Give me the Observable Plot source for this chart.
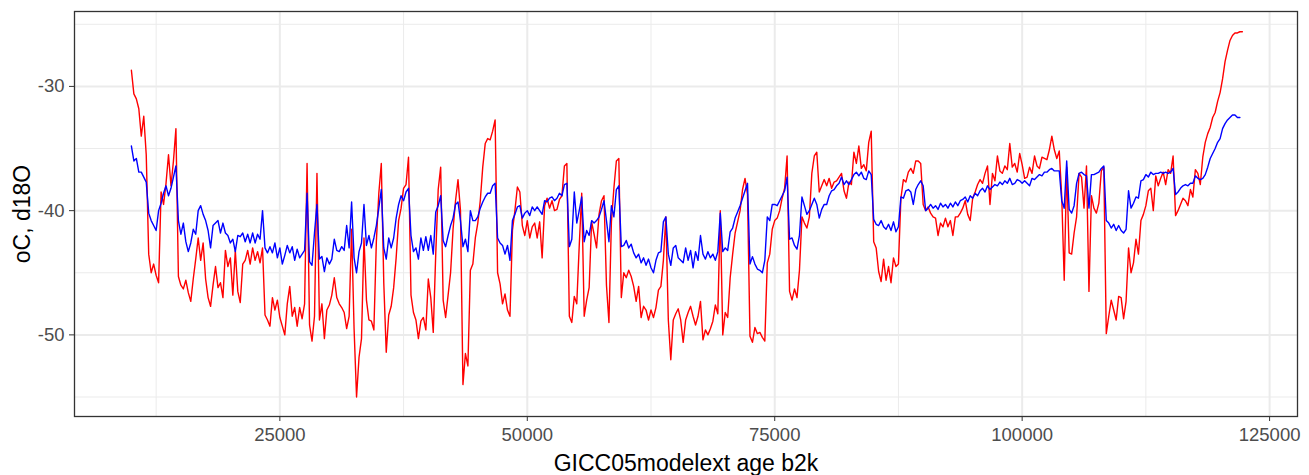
<!DOCTYPE html>
<html>
<head>
<meta charset="utf-8">
<script src="https://cdn.jsdelivr.net/npm/d3@7"></script>
<script src="https://cdn.jsdelivr.net/npm/@observablehq/plot@0.6"></script>
<style>
  html, body { margin: 0; padding: 0; background: #ffffff; }
  #chart svg { display: block; }
</style>
</head>
<body>
<div id="chart"></div>
<script>
// NGRIP-style records on the GICC05modelext time scale, sampled every 250 years.
const startAge = 10000;
const stepYears = 250;

// Temperature (°C), one row per 1000 years starting at the age in the comment
const tempC = [
  -28.7, -30.6, -31.0, -31.8, // 10000
  -34.0, -32.4, -35.5, -43.5, // 11000
  -45.0, -44.3, -45.2, -45.8, // 12000
  -38.5, -39.5, -37.8, -35.5, // 13000
  -38.0, -36.0, -33.4, -45.3, // 14000
  -46.0, -46.3, -45.6, -46.6, // 15000
  -47.3, -45.5, -43.9, -42.2, // 16000
  -44.0, -42.6, -45.5, -47.0, // 17000
  -47.7, -46.0, -44.5, -46.2, // 18000
  -45.8, -47.0, -43.2, -44.5, // 19000
  -43.8, -46.8, -43.2, -46.5, // 20000
  -47.4, -44.3, -44.0, -43.2, // 21000
  -44.3, -43.0, -44.0, -43.3, // 22000
  -44.2, -43.0, -48.4, -48.8, // 23000
  -49.3, -47.0, -48.0, -47.2, // 24000
  -48.6, -49.3, -50.0, -47.5, // 25000
  -46.1, -48.5, -47.8, -49.3, // 26000
  -47.8, -48.7, -47.5, -36.2, // 27000
  -49.2, -50.5, -48.5, -37.0, // 28000
  -48.8, -47.5, -50.3, -48.0, // 29000
  -47.6, -46.8, -45.4, -47.0, // 30000
  -47.5, -47.8, -48.2, -49.5, // 31000
  -48.5, -41.5, -49.5, -55.0, // 32000
  -51.8, -50.3, -42.2, -47.2, // 33000
  -48.8, -48.9, -49.6, -42.5, // 34000
  -38.6, -36.2, -45.8, -51.4, // 35000
  -48.4, -47.7, -46.2, -43.8, // 36000
  -40.8, -39.8, -38.2, -37.9, // 37000
  -35.7, -46.8, -48.2, -48.8, // 38000
  -50.3, -48.9, -48.6, -49.6, // 39000
  -45.5, -47.0, -49.8, -43.5, // 40000
  -38.3, -36.5, -47.2, -48.6, // 41000
  -46.8, -45.0, -41.5, -39.2, // 42000
  -37.5, -40.0, -54.0, -51.5, // 43000
  -52.5, -44.8, -44.3, -42.2, // 44000
  -41.0, -39.2, -36.5, -34.6, // 45000
  -34.2, -34.3, -33.6, -32.7, // 46000
  -45.0, -45.9, -47.5, -46.7, // 47000
  -48.0, -48.5, -41.6, -40.0, // 48000
  -38.1, -38.5, -41.2, -42.0, // 49000
  -40.8, -42.2, -41.3, -41.0, // 50000
  -42.2, -40.9, -43.8, -39.6, // 51000
  -39.0, -39.8, -39.2, -40.0, // 52000
  -39.9, -39.1, -38.8, -36.4, // 53000
  -36.2, -48.5, -49.0, -46.9, // 54000
  -47.5, -42.8, -38.6, -48.5, // 55000
  -47.2, -46.2, -40.9, -41.9, // 56000
  -43.0, -40.3, -39.2, -38.8, // 57000
  -46.0, -49.0, -40.9, -38.2, // 58000
  -36.0, -35.8, -47.0, -45.0, // 59000
  -45.4, -44.8, -45.3, -46.1, // 60000
  -47.3, -46.1, -48.6, -47.7, // 61000
  -48.0, -48.8, -48.0, -48.6, // 62000
  -47.8, -46.4, -46.1, -44.0, // 63000
  -40.5, -48.8, -52.0, -48.8, // 64000
  -48.3, -47.9, -48.8, -50.6, // 65000
  -48.8, -48.2, -47.7, -48.5, // 66000
  -49.2, -48.5, -47.3, -50.4, // 67000
  -49.6, -50.0, -49.5, -48.9, // 68000
  -47.6, -48.3, -40.0, -50.0, // 69000
  -48.2, -48.6, -45.4, -43.5, // 70000
  -41.8, -40.9, -40.0, -38.3, // 71000
  -37.4, -38.7, -50.1, -50.6, // 72000
  -49.4, -49.9, -49.8, -50.2, // 73000
  -50.5, -44.2, -43.5, -41.5, // 74000
  -40.8, -40.6, -40.0, -39.0, // 75000
  -38.2, -35.6, -46.5, -47.2, // 76000
  -46.3, -47.0, -44.8, -40.5, // 77000
  -41.0, -41.4, -40.5, -37.0, // 78000
  -35.6, -35.3, -38.5, -38.0, // 79000
  -37.5, -38.0, -37.4, -38.2, // 80000
  -37.7, -37.6, -37.3, -37.0, // 81000
  -38.4, -39.0, -37.7, -37.9, // 82000
  -35.3, -36.2, -34.8, -36.6, // 83000
  -36.3, -36.8, -34.5, -33.6, // 84000
  -42.5, -43.0, -44.9, -45.7, // 85000
  -43.9, -45.6, -44.5, -45.8, // 86000
  -43.8, -44.5, -44.3, -39.0, // 87000
  -37.5, -37.7, -36.9, -36.6, // 88000
  -37.0, -36.0, -36.0, -36.2, // 89000
  -39.5, -40.0, -39.7, -40.2, // 90000
  -40.5, -40.6, -42.0, -41.0, // 91000
  -41.3, -40.6, -41.3, -40.8, // 92000
  -42.0, -40.5, -40.5, -40.2, // 93000
  -39.8, -39.2, -40.3, -40.8, // 94000
  -39.0, -38.5, -37.9, -37.5, // 95000
  -37.8, -37.0, -36.4, -39.5, // 96000
  -37.0, -37.6, -35.6, -36.8, // 97000
  -37.0, -36.4, -36.7, -34.6, // 98000
  -36.5, -36.2, -36.9, -35.4, // 99000
  -36.3, -37.4, -37.3, -36.5, // 100000
  -37.0, -35.6, -36.4, -36.6, // 101000
  -35.7, -35.8, -35.9, -35.1, // 102000
  -34.0, -35.1, -35.8, -35.2, // 103000
  -38.9, -45.6, -36.5, -43.4, // 104000
  -43.5, -41.8, -40.5, -37.0, // 105000
  -37.3, -39.8, -36.4, -46.5, // 106000
  -38.8, -39.8, -40.2, -39.4, // 107000
  -36.8, -36.5, -49.9, -48.5, // 108000
  -47.2, -48.0, -48.8, -46.9, // 109000
  -47.0, -48.7, -47.3, -43.0, // 110000
  -45.0, -44.2, -42.3, -43.5, // 111000
  -40.8, -40.3, -39.6, -38.4, // 112000
  -38.2, -40.0, -37.2, -38.0, // 113000
  -37.4, -36.9, -37.9, -36.7, // 114000
  -37.0, -35.6, -40.4, -40.0, // 115000
  -39.5, -39.0, -39.2, -39.6, // 116000
  -38.3, -38.9, -36.7, -37.0, // 117000
  -37.9, -35.7, -34.5, -33.8, // 118000
  -33.3, -32.5, -32.1, -31.2, // 119000
  -30.5, -29.4, -28.0, -27.1, // 120000
  -26.3, -25.9, -25.7, -25.7, // 121000
  -25.6, -25.6                // 122000
];

// d18O (permil), same sampling
const d18O = [
  -34.8, -36.0, -35.8, -36.9, // 10000
  -36.9, -37.3, -37.7, -40.2, // 11000
  -40.8, -41.2, -41.6, -40.0, // 12000
  -39.4, -38.6, -38.0, -38.8, // 13000
  -38.2, -37.3, -36.4, -40.8, // 14000
  -41.9, -41.0, -42.5, -43.3, // 15000
  -42.6, -41.5, -41.9, -40.0, // 16000
  -39.6, -40.3, -40.8, -41.6, // 17000
  -43.0, -41.2, -41.0, -40.8, // 18000
  -41.8, -41.0, -41.8, -42.0, // 19000
  -42.6, -42.3, -43.3, -42.0, // 20000
  -42.1, -41.8, -42.5, -41.9, // 21000
  -42.6, -41.8, -42.6, -41.9, // 22000
  -42.3, -40.0, -43.0, -43.4, // 23000
  -42.9, -43.4, -42.6, -43.8, // 24000
  -43.0, -44.3, -43.6, -42.8, // 25000
  -43.4, -42.9, -44.0, -43.1, // 26000
  -43.8, -43.5, -43.2, -38.6, // 27000
  -44.1, -44.4, -41.8, -39.5, // 28000
  -43.9, -43.7, -44.9, -43.8, // 29000
  -44.3, -43.9, -42.3, -43.2, // 30000
  -43.3, -42.9, -43.2, -41.2, // 31000
  -43.0, -39.3, -43.8, -45.0, // 32000
  -43.3, -42.6, -39.5, -42.8, // 33000
  -42.0, -43.0, -42.2, -41.2, // 34000
  -39.8, -38.3, -43.0, -43.9, // 35000
  -42.2, -43.0, -42.2, -40.6, // 36000
  -39.5, -38.8, -39.2, -38.5, // 37000
  -38.2, -42.0, -43.3, -43.0, // 38000
  -43.9, -42.2, -43.2, -42.1, // 39000
  -43.2, -42.0, -43.5, -40.1, // 40000
  -39.6, -38.8, -42.4, -42.9, // 41000
  -42.0, -41.2, -40.6, -39.5, // 42000
  -39.3, -40.8, -42.9, -42.3, // 43000
  -43.3, -40.0, -40.8, -40.8, // 44000
  -40.5, -39.8, -39.3, -38.9, // 45000
  -38.6, -38.6, -38.0, -37.8, // 46000
  -42.2, -42.6, -42.8, -43.5, // 47000
  -42.8, -44.0, -40.8, -40.3, // 48000
  -39.7, -39.6, -40.6, -40.2, // 49000
  -40.0, -40.4, -39.7, -40.0, // 50000
  -39.7, -40.0, -40.3, -39.2, // 51000
  -39.3, -39.0, -38.9, -39.2, // 52000
  -39.0, -38.6, -38.8, -37.9, // 53000
  -37.8, -42.9, -42.3, -38.5, // 54000
  -41.0, -40.0, -38.9, -42.5, // 55000
  -41.6, -42.0, -40.8, -41.0, // 56000
  -40.8, -40.5, -39.9, -39.2, // 57000
  -40.8, -42.5, -39.6, -40.5, // 58000
  -38.3, -38.0, -42.9, -42.8, // 59000
  -42.4, -43.0, -42.7, -43.4, // 60000
  -43.8, -43.5, -44.2, -43.8, // 61000
  -44.4, -43.9, -44.6, -45.0, // 62000
  -44.0, -43.4, -43.3, -40.9, // 63000
  -40.5, -43.5, -44.4, -43.0, // 64000
  -42.8, -43.8, -44.0, -44.2, // 65000
  -43.0, -44.0, -43.2, -44.6, // 66000
  -43.3, -44.0, -42.0, -43.5, // 67000
  -43.9, -43.3, -43.8, -43.5, // 68000
  -44.0, -43.3, -40.2, -43.3, // 69000
  -43.0, -43.2, -41.7, -41.4, // 70000
  -40.6, -40.1, -39.6, -39.0, // 71000
  -38.4, -37.8, -44.3, -43.7, // 72000
  -44.3, -44.7, -44.8, -45.0, // 73000
  -44.0, -40.5, -40.8, -39.5, // 74000
  -39.5, -39.6, -39.2, -38.8, // 75000
  -38.4, -37.3, -42.3, -42.2, // 76000
  -42.8, -43.1, -42.0, -38.9, // 77000
  -39.6, -40.3, -40.0, -39.5, // 78000
  -39.0, -39.5, -40.6, -39.9, // 79000
  -39.5, -39.5, -38.8, -38.4, // 80000
  -38.3, -38.0, -37.8, -37.3, // 81000
  -37.9, -37.6, -37.9, -37.5, // 82000
  -37.1, -36.9, -37.2, -36.9, // 83000
  -37.4, -37.5, -36.8, -37.1, // 84000
  -40.7, -41.1, -41.2, -40.8, // 85000
  -41.3, -41.5, -41.1, -41.6, // 86000
  -40.9, -41.7, -41.3, -38.9, // 87000
  -39.0, -38.4, -38.3, -38.5, // 88000
  -39.5, -38.3, -37.9, -37.6, // 89000
  -38.0, -40.0, -39.8, -39.5, // 90000
  -39.8, -39.6, -39.9, -39.4, // 91000
  -39.7, -39.5, -39.8, -39.4, // 92000
  -39.7, -39.3, -39.6, -39.2, // 93000
  -39.1, -38.9, -39.3, -38.8, // 94000
  -39.0, -38.6, -38.8, -38.4, // 95000
  -38.2, -38.5, -38.0, -38.3, // 96000
  -38.1, -37.9, -38.0, -37.7, // 97000
  -37.9, -37.6, -37.8, -37.4, // 98000
  -37.9, -37.8, -37.5, -37.6, // 99000
  -37.8, -37.6, -37.8, -38.0, // 100000
  -37.4, -37.5, -37.3, -37.1, // 101000
  -37.2, -36.9, -36.9, -36.7, // 102000
  -36.6, -36.8, -36.8, -36.8, // 103000
  -39.2, -39.8, -36.0, -39.9, // 104000
  -40.2, -39.6, -37.8, -37.0, // 105000
  -36.9, -37.1, -37.2, -39.8, // 106000
  -37.1, -37.1, -37.0, -36.9, // 107000
  -36.6, -36.4, -40.8, -41.0, // 108000
  -41.4, -41.1, -41.6, -41.2, // 109000
  -41.6, -41.8, -41.5, -38.4, // 110000
  -39.8, -39.4, -38.9, -39.0, // 111000
  -37.6, -37.5, -37.1, -37.3, // 112000
  -36.9, -37.1, -37.0, -37.0, // 113000
  -36.9, -37.0, -36.9, -37.0, // 114000
  -36.9, -36.6, -38.7, -38.5, // 115000
  -38.2, -38.0, -37.9, -38.0, // 116000
  -37.8, -37.8, -37.2, -37.4, // 117000
  -37.5, -37.4, -37.1, -36.5, // 118000
  -35.8, -35.4, -35.0, -34.5, // 119000
  -34.2, -33.4, -33.0, -32.7, // 120000
  -32.5, -32.3, -32.3, -32.5, // 121000
  -32.5                       // 122000
];

// Axis ticks and grid positions
const xTicks = [25000, 50000, 75000, 100000, 125000];
const xMinor = [12500, 37500, 62500, 87500, 112500];
const yTicks = [-50, -40, -30];
const yMinor = [-55, -45, -35, -25];

const xTitle = "GICC05modelext age b2k";
const yTitle = "oC, d18O";

const ageOf = (d, i) => startAge + i * stepYears;
const plainNumber = d => String(d); // ASCII hyphen-minus, no thousands separator

const chart = Plot.plot({
  width: 1309,
  height: 475,
  marginLeft: 74,
  marginRight: 12,
  marginTop: 11,
  marginBottom: 59,
  style: {
    fontFamily: "'Liberation Sans', Arial, sans-serif",
    background: "#ffffff",
    overflow: "visible"
  },
  x: { domain: [4252, 127820], type: "linear", nice: false },
  y: { domain: [-56.57, -23.97], type: "linear", nice: false },
  marks: [
    // panel grid: minor then major lines
    Plot.ruleX(xMinor, { stroke: "#ebebeb", strokeWidth: 1 }),
    Plot.ruleY(yMinor, { stroke: "#ebebeb", strokeWidth: 1 }),
    Plot.ruleX(xTicks, { stroke: "#ebebeb", strokeWidth: 2 }),
    Plot.ruleY(yTicks, { stroke: "#ebebeb", strokeWidth: 2 }),
    // the two series: temperature in red, d18O in blue
    Plot.line(tempC, { x: ageOf, y: d => d, stroke: "#ff0000", strokeWidth: 1.4 }),
    Plot.line(d18O, { x: ageOf, y: d => d, stroke: "#0000ff", strokeWidth: 1.4 }),
    Plot.frame({ stroke: "#333333", strokeWidth: 1.3 }),
    Plot.axisX({
      ticks: xTicks, tickFormat: plainNumber, tickSize: 5, tickPadding: 6,
      fontSize: 18.5, fill: "#4d4d4d", stroke: "#333333", label: null
    }),
    Plot.axisY({
      ticks: yTicks, tickFormat: plainNumber, tickSize: 5, tickPadding: 5,
      fontSize: 18.5, fill: "#4d4d4d", stroke: "#333333", label: null
    }),
    Plot.text([xTitle], {
      frameAnchor: "bottom", lineAnchor: "middle", dy: 47,
      fontSize: 23, fill: "#000000", text: d => d
    }),
    Plot.text([yTitle], {
      frameAnchor: "left", textAnchor: "middle", lineAnchor: "middle", dx: -52, rotate: -90,
      fontSize: 23, fill: "#000000", text: d => d
    })
  ]
});

document.getElementById("chart").appendChild(chart);
</script>
</body>
</html>
